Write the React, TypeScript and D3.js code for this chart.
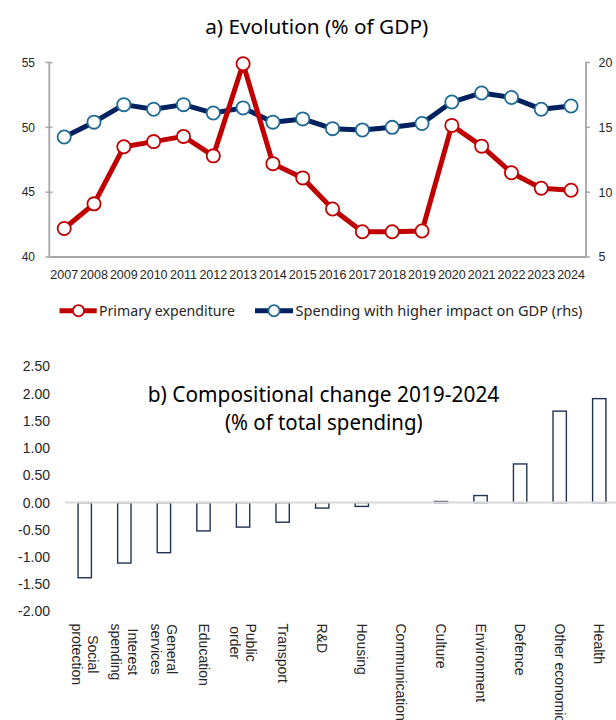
import React from 'react';
import * as d3 from 'd3';

const years = [2007, 2008, 2009, 2010, 2011, 2012, 2013, 2014, 2015, 2016, 2017, 2018, 2019, 2020, 2021, 2022, 2023, 2024];
const primaryExpenditure = [42.2, 44.1, 48.5, 48.9, 49.3, 47.8, 54.9, 47.2, 46.1, 43.7, 41.95, 41.95, 42.0, 50.15, 48.55, 46.5, 45.3, 45.15];
const highImpactSpending = [14.25, 15.4, 16.75, 16.4, 16.75, 16.1, 16.5, 15.4, 15.65, 14.9, 14.8, 15.0, 15.3, 16.95, 17.65, 17.3, 16.4, 16.65];
const leftTicks = [40, 45, 50, 55];
const rightTicks = [5, 10, 15, 20];

const categories = [
  'Social\nprotection', 'Interest\nspending', 'General\nservices', 'Education', 'Public\norder', 'Transport',
  'R&D', 'Housing', 'Communications', 'Culture', 'Environment', 'Defence', 'Other economic affairs', 'Health',
];
const compositionalChange = [-1.38, -1.11, -0.92, -0.52, -0.45, -0.36, -0.1, -0.07, 0, 0.02, 0.13, 0.71, 1.68, 1.91];
const changeTicks = [-2, -1.5, -1, -0.5, 0, 0.5, 1, 1.5, 2, 2.5];

const RED = '#C00000';
const NAVY = '#002060';
const BLUE_MARK = '#1F6B94';
const AXIS = '#A6A6A6';
const TXT = '#262626';
const SANS = "'Liberation Sans', Arial, sans-serif";
const TITLE = "'Noto Sans', 'Open Sans', sans-serif";

let ctx: CanvasRenderingContext2D | null = null;
function measure(text: string, font: string) {
  if (!ctx) ctx = document.createElement('canvas').getContext('2d');
  if (!ctx) return text.length * 7;
  ctx.font = font;
  return ctx.measureText(text).width;
}

export default function App() {
  // ---- top chart scales
  const xTop = d3.scaleBand<number>().domain(years).range([49.3, 586]);
  const yLeft = d3.scaleLinear().domain([40, 55]).range([257, 62.5]);
  const yRight = d3.scaleLinear().domain([5, 20]).range([257, 62.5]);
  const cx = (y: number) => (xTop(y) as number) + xTop.bandwidth() / 2;

  const redLine = d3.line<number>().x((_, i) => cx(years[i])).y((d) => yLeft(d));
  const blueLine = d3.line<number>().x((_, i) => cx(years[i])).y((d) => yRight(d));

  // ---- bottom chart scales
  const xBot = d3.scaleBand<string>().domain(categories).range([65, 619]).paddingInner(0.663).paddingOuter(0.33);
  const yBot = d3.scaleLinear().domain([-2, 2.5]).range([611.5, 366.5]);
  const zero = yBot(0);

  const labelFont = `14px ${SANS}`;

  return (
    <svg width={616} height={720} style={{ position: 'absolute', left: 0, top: 0, display: 'block', background: '#fff' }}>
      {/* ===== Top chart ===== */}
      <text x={316.7} y={34} textAnchor="middle" fontFamily={TITLE} fontSize={20} fill="#000" textLength={223} lengthAdjust="spacingAndGlyphs">
        a) Evolution (% of GDP)
      </text>

      {/* axes */}
      <line x1={49.3} x2={49.3} y1={62.5} y2={257} stroke={AXIS} strokeWidth={1.8} />
      <line x1={586} x2={586} y1={62.5} y2={257} stroke={AXIS} strokeWidth={1.8} />
      <line x1={49.3} x2={586} y1={257} y2={257} stroke={AXIS} strokeWidth={1.8} />
      {leftTicks.map((t) => (
        <g key={'l' + t}>
          <line x1={45.5} x2={52.5} y1={yLeft(t)} y2={yLeft(t)} stroke={AXIS} strokeWidth={1.5} />
          <text x={35} y={yLeft(t)} dy="0.35em" textAnchor="end" fontFamily={SANS} fontSize={12} fill={TXT}>{t}</text>
        </g>
      ))}
      {rightTicks.map((t) => (
        <g key={'r' + t}>
          <line x1={585} x2={590} y1={yRight(t)} y2={yRight(t)} stroke={AXIS} strokeWidth={1.5} />
          <text x={598.5} y={yRight(t)} dy="0.35em" textAnchor="start" fontFamily={SANS} fontSize={12.5} fill={TXT}>{t}</text>
        </g>
      ))}
      {years.map((yr) => (
        <text key={'y' + yr} x={cx(yr)} y={279} textAnchor="middle" fontFamily={SANS} fontSize={12.5} fill={TXT}>{yr}</text>
      ))}

      {/* series */}
      <path d={blueLine(highImpactSpending) || ''} fill="none" stroke={NAVY} strokeWidth={5} strokeLinejoin="round" />
      {highImpactSpending.map((v, i) => (
        <circle key={'b' + i} cx={cx(years[i])} cy={yRight(v)} r={6.6} fill="#fff" stroke={BLUE_MARK} strokeWidth={1.8} />
      ))}
      <path d={redLine(primaryExpenditure) || ''} fill="none" stroke={RED} strokeWidth={5} strokeLinejoin="round" />
      {primaryExpenditure.map((v, i) => (
        <circle key={'p' + i} cx={cx(years[i])} cy={yLeft(v)} r={6.6} fill="#fff" stroke={RED} strokeWidth={1.8} />
      ))}

      {/* legend */}
      <line x1={59.5} x2={96.7} y1={310.7} y2={310.7} stroke={RED} strokeWidth={5} />
      <circle cx={78.5} cy={310.7} r={5.6} fill="#fff" stroke={RED} strokeWidth={1.8} />
      <text x={99} y={315.8} fontFamily={TITLE} fontSize={15} fill={TXT} textLength={136} lengthAdjust="spacingAndGlyphs">Primary expenditure</text>
      <line x1={255} x2={293} y1={310.7} y2={310.7} stroke={NAVY} strokeWidth={5} />
      <circle cx={274} cy={310.7} r={5.6} fill="#fff" stroke={BLUE_MARK} strokeWidth={1.8} />
      <text x={295.5} y={315.8} fontFamily={TITLE} fontSize={15} fill={TXT} textLength={287} lengthAdjust="spacingAndGlyphs">Spending with higher impact on GDP (rhs)</text>

      {/* ===== Bottom chart ===== */}
      <text x={323.5} y={401.7} textAnchor="middle" fontFamily={TITLE} fontSize={21.5} fill="#000" textLength={351.6} lengthAdjust="spacingAndGlyphs">
        b) Compositional change 2019-2024
      </text>
      <text x={323.8} y={429.5} textAnchor="middle" fontFamily={TITLE} fontSize={21.5} fill="#000" textLength={197.7} lengthAdjust="spacingAndGlyphs">
        (% of total spending)
      </text>

      {changeTicks.map((t) => (
        <text key={'ct' + t} x={50} y={yBot(t)} dy="0.35em" textAnchor="end" fontFamily={SANS} fontSize={14} fill={TXT}>{t.toFixed(2)}</text>
      ))}

      {categories.map((c, i) => {
        const v = compositionalChange[i];
        if (v === 0) return null;
        const x = xBot(c) as number;
        const y0 = Math.min(yBot(v), zero);
        const h = Math.abs(yBot(v) - zero);
        return <rect key={'bar' + i} x={x} y={y0} width={xBot.bandwidth()} height={h} fill="#fff" stroke="#1F3354" strokeWidth={1.4} />;
      })}
      <line x1={65} x2={616} y1={zero} y2={zero} stroke="#D9D9D9" strokeWidth={2} />

      {categories.map((c, i) => {
        const lines = c.split('\n');
        const center = (xBot(c) as number) + xBot.bandwidth() / 2;
        const maxW = Math.max(...lines.map((l) => measure(l, labelFont)));
        const lh = 16.5;
        const top = 623.5;
        return (
          <g key={'lab' + i} transform={`translate(${center},${top}) rotate(90)`}>
            {lines.map((l, j) => (
              <text
                key={j}
                x={lines.length > 1 ? maxW / 2 : 0}
                y={(j - (lines.length - 1) / 2) * lh}
                dy="0.35em"
                textAnchor={lines.length > 1 ? 'middle' : 'start'}
                fontFamily={SANS}
                fontSize={14}
                fill={TXT}
              >
                {l}
              </text>
            ))}
          </g>
        );
      })}
    </svg>
  );
}
